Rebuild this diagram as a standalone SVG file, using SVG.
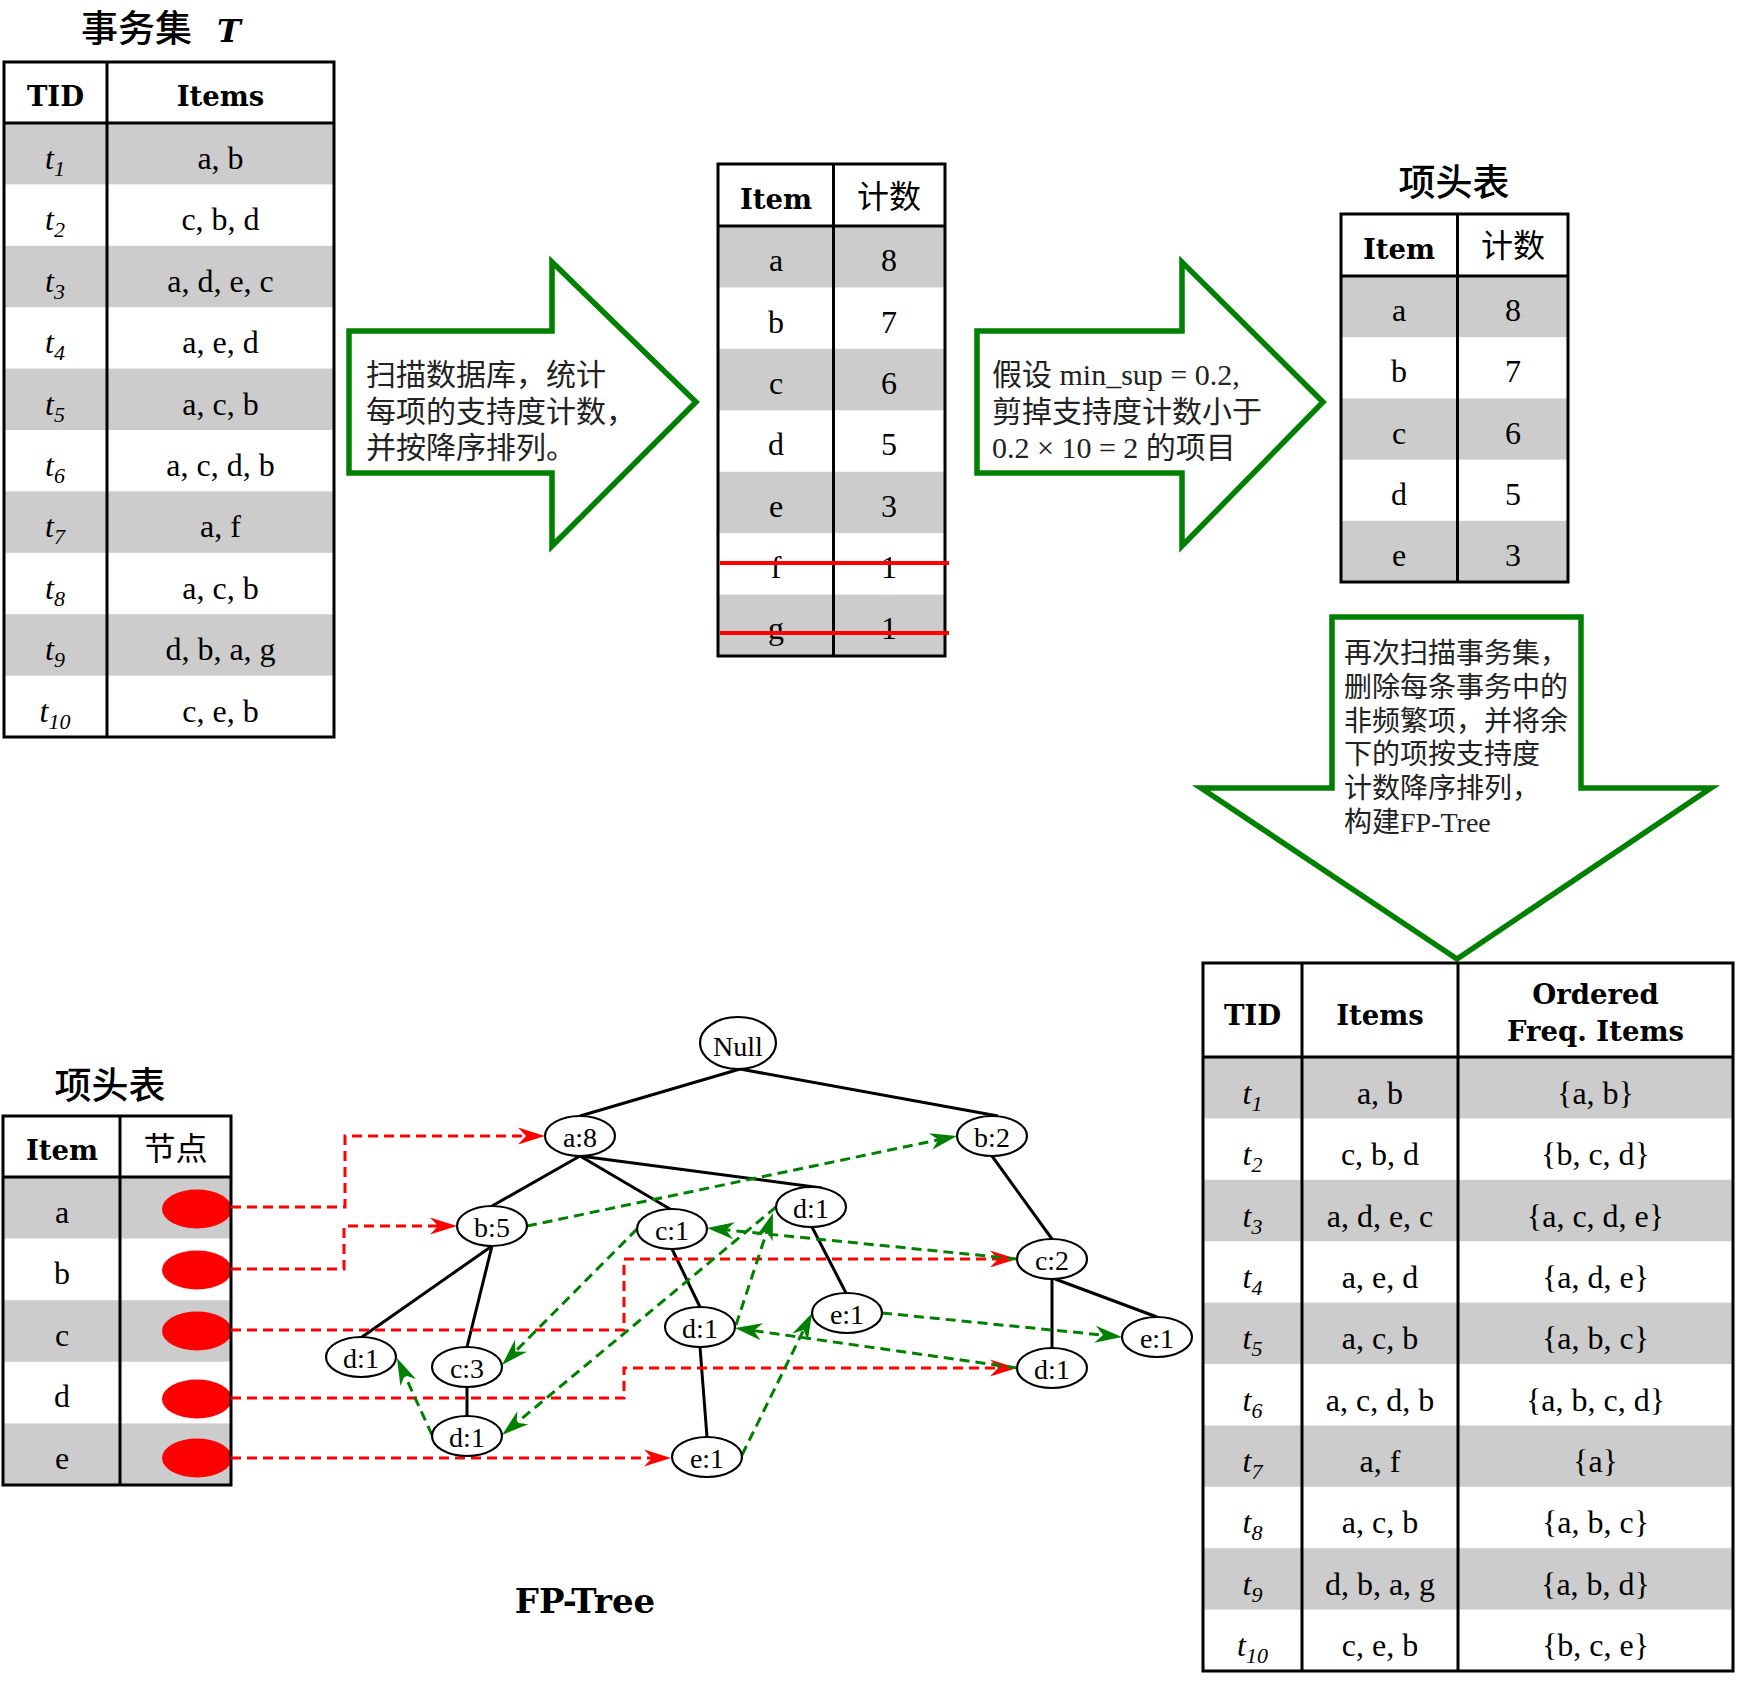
<svg xmlns="http://www.w3.org/2000/svg" width="1738" height="1683" viewBox="0 0 1738 1683">
<style>
.g{fill:#cccccc}
.tb{fill:none;stroke:#000;stroke-width:3}
.d{font-family:'Liberation Serif','DejaVu Serif',serif;font-size:32px;text-anchor:middle;fill:#000}
.h{font-family:'DejaVu Serif',serif;font-weight:bold;font-size:27.5px;text-anchor:middle;fill:#000}
.cj{font-family:'Noto Sans CJK SC',sans-serif;fill:#000}
.ti{font-family:'Noto Sans CJK SC',sans-serif;font-size:37px;font-weight:500;fill:#000}
.arw{fill:#fff;stroke:#008000;stroke-width:5.5}
.at{font-family:'Liberation Serif','Noto Sans CJK SC',serif;font-size:30px;fill:#222}
.at2{font-family:'Liberation Serif','Noto Sans CJK SC',serif;font-size:28px;fill:#222}
.n ellipse{fill:#fff;stroke:#000;stroke-width:2.2}
.n text{font-family:'Liberation Serif','DejaVu Serif',serif;font-size:28px;text-anchor:middle;fill:#000}
.e{stroke:#000;stroke-width:3;fill:none}
.r{fill:none;stroke:#f00;stroke-width:3;stroke-dasharray:10 6;marker-end:url(#mr)}
.gl{fill:none;stroke:#008000;stroke-width:3;stroke-dasharray:10 6;marker-end:url(#mg)}
.strike{stroke:#f00;stroke-width:4}
.sub{font-size:22px;font-style:italic}
</style>
<defs>
<marker id="mr" markerUnits="userSpaceOnUse" orient="auto" markerWidth="40" markerHeight="30" viewBox="-25 -15 40 30" refX="0" refY="0" overflow="visible"><path d="M8,0 L-19,-8.5 L-11,0 L-19,8.5 Z" fill="#f00"/></marker>
<marker id="mg" markerUnits="userSpaceOnUse" orient="auto" markerWidth="40" markerHeight="30" viewBox="-25 -15 40 30" refX="0" refY="0" overflow="visible"><path d="M8,0 L-19,-8.5 L-11,0 L-19,8.5 Z" fill="#008000"/></marker>
</defs>
<rect width="1738" height="1683" fill="#fff"/>

<!-- Transaction set T -->
<g id="tbl_T">
<text class="ti" x="81" y="42">事务集</text>
<text x="217" y="42" font-family="'DejaVu Serif',serif" font-weight="bold" font-style="italic" font-size="32">T</text>
<rect class="g" x="4" y="123" width="330" height="61.4"/>
<rect class="g" x="4" y="245.8" width="330" height="61.4"/>
<rect class="g" x="4" y="368.6" width="330" height="61.4"/>
<rect class="g" x="4" y="491.4" width="330" height="61.4"/>
<rect class="g" x="4" y="614.2" width="330" height="61.4"/>
<rect class="tb" x="4" y="62" width="330" height="675"/>
<line class="tb" x1="107" y1="62" x2="107" y2="737"/>
<line class="tb" x1="4" y1="123" x2="334" y2="123"/>
<text class="h" x="55.5" y="106">TID</text>
<text class="h" x="220.5" y="106">Items</text>
<text class="d" x="55" y="169"><tspan font-style="italic">t</tspan><tspan class="sub" dy="7">1</tspan></text>
<text class="d" x="55" y="230"><tspan font-style="italic">t</tspan><tspan class="sub" dy="7">2</tspan></text>
<text class="d" x="55" y="292"><tspan font-style="italic">t</tspan><tspan class="sub" dy="7">3</tspan></text>
<text class="d" x="55" y="353"><tspan font-style="italic">t</tspan><tspan class="sub" dy="7">4</tspan></text>
<text class="d" x="55" y="415"><tspan font-style="italic">t</tspan><tspan class="sub" dy="7">5</tspan></text>
<text class="d" x="55" y="476"><tspan font-style="italic">t</tspan><tspan class="sub" dy="7">6</tspan></text>
<text class="d" x="55" y="537"><tspan font-style="italic">t</tspan><tspan class="sub" dy="7">7</tspan></text>
<text class="d" x="55" y="599"><tspan font-style="italic">t</tspan><tspan class="sub" dy="7">8</tspan></text>
<text class="d" x="55" y="660"><tspan font-style="italic">t</tspan><tspan class="sub" dy="7">9</tspan></text>
<text class="d" x="55" y="722"><tspan font-style="italic">t</tspan><tspan class="sub" dy="7">10</tspan></text>
<text class="d" x="220.5" y="169">a, b</text>
<text class="d" x="220.5" y="230">c, b, d</text>
<text class="d" x="220.5" y="292">a, d, e, c</text>
<text class="d" x="220.5" y="353">a, e, d</text>
<text class="d" x="220.5" y="415">a, c, b</text>
<text class="d" x="220.5" y="476">a, c, d, b</text>
<text class="d" x="220.5" y="537">a, f</text>
<text class="d" x="220.5" y="599">a, c, b</text>
<text class="d" x="220.5" y="660">d, b, a, g</text>
<text class="d" x="220.5" y="722">c, e, b</text>
</g>

<!-- Arrow 1 -->
<g id="arrow_scan">
<polygon class="arw" points="349,331 552,331 552,262 696,402 552,546 552,473 349,473"/>
<text class="at" x="366" y="385">扫描数据库，统计</text>
<text class="at" x="366" y="422">每项的支持度计数，</text>
<text class="at" x="366" y="458">并按降序排列。</text>
</g>

<!-- Count table -->
<g id="tbl_count">
<rect class="g" x="718" y="226" width="227" height="61.4"/>
<rect class="g" x="718" y="348.9" width="227" height="61.4"/>
<rect class="g" x="718" y="471.7" width="227" height="61.4"/>
<rect class="g" x="718" y="594.6" width="227" height="61.4"/>
<rect class="tb" x="718" y="164" width="227" height="492"/>
<line class="tb" x1="833.5" y1="164" x2="833.5" y2="656"/>
<line class="tb" x1="718" y1="226" x2="945" y2="226"/>
<text class="h" x="776" y="209">Item</text>
<text class="cj" x="889" y="208" font-size="32" text-anchor="middle">计数</text>
<text class="d" x="776" y="271">a</text><text class="d" x="889" y="271">8</text>
<text class="d" x="776" y="333">b</text><text class="d" x="889" y="333">7</text>
<text class="d" x="776" y="394">c</text><text class="d" x="889" y="394">6</text>
<text class="d" x="776" y="455">d</text><text class="d" x="889" y="455">5</text>
<text class="d" x="776" y="517">e</text><text class="d" x="889" y="517">3</text>
<text class="d" x="776" y="578">f</text><text class="d" x="889" y="578">1</text>
<text class="d" x="776" y="639">g</text><text class="d" x="889" y="639">1</text>
<line class="strike" x1="720" y1="563" x2="949" y2="563"/>
<line class="strike" x1="720" y1="633" x2="949" y2="633"/>
</g>

<!-- Arrow 2 -->
<g id="arrow_prune">
<polygon class="arw" points="977,331 1182,331 1182,262 1323,402 1182,546 1182,473 977,473"/>
<text class="at" x="992" y="385">假设 min_sup = 0.2,</text>
<text class="at" x="992" y="422">剪掉支持度计数小于</text>
<text class="at" x="992" y="458">0.2 × 10 = 2 的项目</text>
</g>

<!-- Header table top right -->
<g id="tbl_header_top">
<text class="ti" x="1454" y="196" text-anchor="middle">项头表</text>
<rect class="g" x="1341" y="276" width="227" height="61.2"/>
<rect class="g" x="1341" y="398.4" width="227" height="61.2"/>
<rect class="g" x="1341" y="520.8" width="227" height="61.2"/>
<rect class="tb" x="1341" y="214" width="227" height="368"/>
<line class="tb" x1="1457.5" y1="214" x2="1457.5" y2="582"/>
<line class="tb" x1="1341" y1="276" x2="1568" y2="276"/>
<text class="h" x="1399" y="259">Item</text>
<text class="cj" x="1513" y="257" font-size="32" text-anchor="middle">计数</text>
<text class="d" x="1399" y="321">a</text><text class="d" x="1513" y="321">8</text>
<text class="d" x="1399" y="382">b</text><text class="d" x="1513" y="382">7</text>
<text class="d" x="1399" y="444">c</text><text class="d" x="1513" y="444">6</text>
<text class="d" x="1399" y="505">d</text><text class="d" x="1513" y="505">5</text>
<text class="d" x="1399" y="566">e</text><text class="d" x="1513" y="566">3</text>
</g>

<!-- Arrow 3 (down) -->
<g id="arrow_build">
<polygon class="arw" points="1332,617 1581,617 1581,788 1711,788 1457,959 1201,788 1332,788"/>
<text class="at2" x="1344" y="663">再次扫描事务集，</text>
<text class="at2" x="1344" y="697">删除每条事务中的</text>
<text class="at2" x="1344" y="731">非频繁项，并将余</text>
<text class="at2" x="1344" y="764">下的项按支持度</text>
<text class="at2" x="1344" y="798">计数降序排列，</text>
<text class="at2" x="1344" y="832">构建FP-Tree</text>
</g>

<!-- Ordered table -->
<g id="tbl_ordered">
<rect class="g" x="1203" y="1057" width="530" height="61.4"/>
<rect class="g" x="1203" y="1179.8" width="530" height="61.4"/>
<rect class="g" x="1203" y="1302.6" width="530" height="61.4"/>
<rect class="g" x="1203" y="1425.4" width="530" height="61.4"/>
<rect class="g" x="1203" y="1548.2" width="530" height="61.4"/>
<rect class="tb" x="1203" y="963" width="530" height="708"/>
<line class="tb" x1="1302" y1="963" x2="1302" y2="1671"/>
<line class="tb" x1="1458" y1="963" x2="1458" y2="1671"/>
<line class="tb" x1="1203" y1="1057" x2="1733" y2="1057"/>
<text class="h" x="1252.5" y="1025">TID</text>
<text class="h" x="1380" y="1025">Items</text>
<text class="h" x="1595.5" y="1004">Ordered</text>
<text class="h" x="1595.5" y="1041">Freq. Items</text>
<text class="d" x="1252.5" y="1104"><tspan font-style="italic">t</tspan><tspan class="sub" dy="7">1</tspan></text>
<text class="d" x="1252.5" y="1165"><tspan font-style="italic">t</tspan><tspan class="sub" dy="7">2</tspan></text>
<text class="d" x="1252.5" y="1227"><tspan font-style="italic">t</tspan><tspan class="sub" dy="7">3</tspan></text>
<text class="d" x="1252.5" y="1288"><tspan font-style="italic">t</tspan><tspan class="sub" dy="7">4</tspan></text>
<text class="d" x="1252.5" y="1349"><tspan font-style="italic">t</tspan><tspan class="sub" dy="7">5</tspan></text>
<text class="d" x="1252.5" y="1411"><tspan font-style="italic">t</tspan><tspan class="sub" dy="7">6</tspan></text>
<text class="d" x="1252.5" y="1472"><tspan font-style="italic">t</tspan><tspan class="sub" dy="7">7</tspan></text>
<text class="d" x="1252.5" y="1533"><tspan font-style="italic">t</tspan><tspan class="sub" dy="7">8</tspan></text>
<text class="d" x="1252.5" y="1595"><tspan font-style="italic">t</tspan><tspan class="sub" dy="7">9</tspan></text>
<text class="d" x="1252.5" y="1656"><tspan font-style="italic">t</tspan><tspan class="sub" dy="7">10</tspan></text>
<text class="d" x="1380" y="1104">a, b</text>
<text class="d" x="1380" y="1165">c, b, d</text>
<text class="d" x="1380" y="1227">a, d, e, c</text>
<text class="d" x="1380" y="1288">a, e, d</text>
<text class="d" x="1380" y="1349">a, c, b</text>
<text class="d" x="1380" y="1411">a, c, d, b</text>
<text class="d" x="1380" y="1472">a, f</text>
<text class="d" x="1380" y="1533">a, c, b</text>
<text class="d" x="1380" y="1595">d, b, a, g</text>
<text class="d" x="1380" y="1656">c, e, b</text>
<text class="d" x="1595.5" y="1104">{a, b}</text>
<text class="d" x="1595.5" y="1165">{b, c, d}</text>
<text class="d" x="1595.5" y="1227">{a, c, d, e}</text>
<text class="d" x="1595.5" y="1288">{a, d, e}</text>
<text class="d" x="1595.5" y="1349">{a, b, c}</text>
<text class="d" x="1595.5" y="1411">{a, b, c, d}</text>
<text class="d" x="1595.5" y="1472">{a}</text>
<text class="d" x="1595.5" y="1533">{a, b, c}</text>
<text class="d" x="1595.5" y="1595">{a, b, d}</text>
<text class="d" x="1595.5" y="1656">{b, c, e}</text>
</g>

<!-- Header table bottom left -->
<g id="tbl_header_tree">
<text class="ti" x="110" y="1099" text-anchor="middle">项头表</text>
<rect class="g" x="3" y="1177" width="228" height="61.6"/>
<rect class="g" x="3" y="1300.2" width="228" height="61.6"/>
<rect class="g" x="3" y="1423.4" width="228" height="61.6"/>
<ellipse cx="197" cy="1209" rx="35" ry="19.5" fill="#f00"/>
<ellipse cx="197" cy="1270" rx="35" ry="19.5" fill="#f00"/>
<ellipse cx="197" cy="1331" rx="35" ry="19.5" fill="#f00"/>
<ellipse cx="197" cy="1399" rx="35" ry="19.5" fill="#f00"/>
<ellipse cx="197" cy="1458" rx="35" ry="19.5" fill="#f00"/>
<rect class="tb" x="3" y="1116" width="228" height="369"/>
<line class="tb" x1="120" y1="1116" x2="120" y2="1485"/>
<line class="tb" x1="3" y1="1177" x2="231" y2="1177"/>
<text class="h" x="62" y="1160">Item</text>
<text class="cj" x="175.5" y="1160" font-size="32" text-anchor="middle">节点</text>
<text class="d" x="62" y="1223">a</text>
<text class="d" x="62" y="1284">b</text>
<text class="d" x="62" y="1346">c</text>
<text class="d" x="62" y="1407">d</text>
<text class="d" x="62" y="1469">e</text>
</g>

<!-- Connectors -->
<g id="connectors">
<g id="tree_edges">
<line class="e" x1="740" y1="1069" x2="580" y2="1116"/>
<line class="e" x1="740" y1="1069" x2="998" y2="1116"/>
<line class="e" x1="580" y1="1156" x2="492" y2="1206"/>
<line class="e" x1="580" y1="1156" x2="670" y2="1209"/>
<line class="e" x1="580" y1="1156" x2="822" y2="1188"/>
<line class="e" x1="492" y1="1246" x2="362" y2="1337"/>
<line class="e" x1="492" y1="1246" x2="467" y2="1347"/>
<line class="e" x1="467" y1="1387" x2="467" y2="1416"/>
<line class="e" x1="672" y1="1249" x2="700" y2="1307"/>
<line class="e" x1="700" y1="1347" x2="707" y2="1437"/>
<line class="e" x1="812" y1="1227" x2="846" y2="1293"/>
<line class="e" x1="992" y1="1156" x2="1052" y2="1239"/>
<line class="e" x1="1052" y1="1279" x2="1052" y2="1348"/>
<line class="e" x1="1055" y1="1279" x2="1157" y2="1317"/>
</g>
<g id="header_links">
<path class="r" d="M231,1207 H345 V1136 H537"/>
<path class="r" d="M231,1269 H344 V1226 H449"/>
<path class="r" d="M231,1330 H624 V1259 H1009"/>
<path class="r" d="M231,1398 H624 V1368 H1009"/>
<path class="r" d="M231,1458 H663"/>
</g>
<g id="node_links">
<path class="gl" d="M527,1226 L949.2,1137.6"/>
<path class="gl" d="M1017,1259 L715,1228.8"/>
<path class="gl" d="M637,1229 L507.6,1359.3"/>
<path class="gl" d="M1017,1368 L742.9,1329.1"/>
<path class="gl" d="M736,1325 L770.5,1220.6"/>
<path class="gl" d="M776,1207 L508.2,1429.9"/>
<path class="gl" d="M432,1435 L400.3,1365.3"/>
<path class="gl" d="M742,1455 L808.5,1320.2"/>
<path class="gl" d="M882,1313 L1114,1336.2"/>
</g>
</g>

<!-- FP-tree nodes -->
<g id="n_null" class="n"><ellipse cx="738" cy="1043" rx="38" ry="26"/><text x="738" y="1056">Null</text></g>
<g id="n_a8" class="n"><ellipse cx="580" cy="1136" rx="35" ry="20"/><text x="580" y="1147">a:8</text></g>
<g id="n_b2" class="n"><ellipse cx="992" cy="1136" rx="35" ry="20"/><text x="992" y="1147">b:2</text></g>
<g id="n_b5" class="n"><ellipse cx="492" cy="1226" rx="35" ry="20"/><text x="492" y="1237">b:5</text></g>
<g id="n_c1" class="n"><ellipse cx="672" cy="1229" rx="35" ry="20"/><text x="672" y="1240">c:1</text></g>
<g id="n_d1u" class="n"><ellipse cx="811" cy="1207" rx="35" ry="20"/><text x="811" y="1218">d:1</text></g>
<g id="n_c2" class="n"><ellipse cx="1052" cy="1259" rx="35" ry="20"/><text x="1052" y="1270">c:2</text></g>
<g id="n_d1l" class="n"><ellipse cx="361" cy="1357" rx="35" ry="20"/><text x="361" y="1368">d:1</text></g>
<g id="n_c3" class="n"><ellipse cx="467" cy="1367" rx="35" ry="20"/><text x="467" y="1378">c:3</text></g>
<g id="n_d1m" class="n"><ellipse cx="700" cy="1327" rx="35" ry="20"/><text x="700" y="1338">d:1</text></g>
<g id="n_e1m" class="n"><ellipse cx="847" cy="1313" rx="35" ry="20"/><text x="847" y="1324">e:1</text></g>
<g id="n_e1r" class="n"><ellipse cx="1157" cy="1337" rx="35" ry="20"/><text x="1157" y="1348">e:1</text></g>
<g id="n_d1c2" class="n"><ellipse cx="1052" cy="1368" rx="35" ry="20"/><text x="1052" y="1379">d:1</text></g>
<g id="n_d1b" class="n"><ellipse cx="467" cy="1436" rx="35" ry="20"/><text x="467" y="1447">d:1</text></g>
<g id="n_e1b" class="n"><ellipse cx="707" cy="1457" rx="35" ry="20"/><text x="707" y="1468">e:1</text></g>

<text id="fp_label" x="585" y="1613" font-family="'DejaVu Serif',serif" font-weight="bold" font-size="34" text-anchor="middle">FP-Tree</text>
</svg>
